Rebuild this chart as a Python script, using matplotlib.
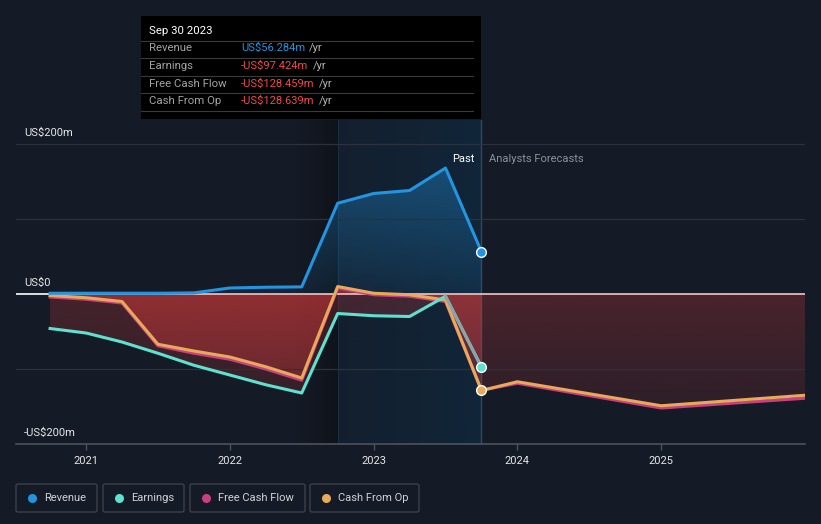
import numpy as np
import matplotlib
matplotlib.use("Agg")
import matplotlib.pyplot as plt
from matplotlib.patches import Rectangle, FancyBboxPatch
from matplotlib.lines import Line2D
from matplotlib.text import Annotation
from matplotlib.colors import to_rgb

plt.rcParams['font.family'] = ['Roboto', 'DejaVu Sans']

# --- data (US$ m, trailing twelve months) ---
past_dates = [2020.75, 2021.0, 2021.25, 2021.5, 2021.75, 2022.0, 2022.25,
              2022.5, 2022.75, 2023.0, 2023.25, 2023.5, 2023.75]
revenue = [1, 1, 1, 1, 1.5, 8, 9, 9.5, 121, 134, 138, 168, 56.284]
earnings = [-46, -52, -64, -79, -95, -108, -121, -132, -26, -29, -30, -3, -97.424]
free_cash_flow = [-4, -7, -12, -69, -79, -87, -100, -115, 8, -1, -3, -10, -128.459]
cash_from_op = [-2, -5, -10, -67, -76, -84, -97, -112, 10, 1, -1, -8, -128.639]

fc_dates = [2023.75, 2024.0, 2025.0, 2026.0]
fcf_forecast = [-128.459, -119, -152, -139]
cfo_forecast = [-128.639, -117, -149, -135]

year_ticks = [2021, 2022, 2023, 2024, 2025]
tooltip_date = "Sep 30 2023"
highlight_start = 2022.75

BG = "#151b26"
C_REV = "#2394df"
C_EARN = "#5ee2cf"
C_FCF = "#c8407f"
C_CFO = "#e8a95b"
C_RED = "#d33a3a"


def px_x(p):
    return p / 821


def px_y(p):
    return 1 - p / 524


def gradient_fill(ax, x, y, base, color, a_top, a_bot, z):
    coll = ax.fill_between(x, y, base, facecolor="none", edgecolor="none")
    path = coll.get_paths()[0]
    lo = min(min(y), base)
    hi = max(max(y), base)
    n = 256
    arr = np.zeros((n, 1, 4))
    arr[..., :3] = to_rgb(color)
    arr[:, 0, 3] = np.linspace(a_top, a_bot, n)
    im = ax.imshow(arr, extent=[x[0], x[-1], lo, hi], aspect="auto",
                   origin="upper", zorder=z, interpolation="bilinear")
    im.set_clip_path(path, ax.transData)


def fmt_money(v):
    if v < 0:
        return f"-US${abs(v):.3f}m"
    return f"US${v:.3f}m"


fig = plt.figure(figsize=(8.21, 5.24), dpi=100, facecolor=BG)
ax = fig.add_axes([px_x(16), px_y(444), 789 / 821, 324 / 524])
ax.set_facecolor(BG)

x0, x1 = 2020.513, 2026.0
y0, y1 = -200, 232

# past highlight band
n = 256
band = np.zeros((1, n, 4))
band[..., :3] = to_rgb("#0f2d46")
band[0, :, 3] = np.linspace(0.25, 0.6, n)
ax.imshow(band, extent=[highlight_start, past_dates[-1], y0, y1], aspect="auto",
          zorder=0.5, interpolation="bilinear")
shadow = np.zeros((1, n, 4))
shadow[0, :, 3] = np.linspace(0.0, 0.3, n)
ax.imshow(shadow, extent=[highlight_start - 0.3, highlight_start, y0, y1],
          aspect="auto", zorder=0.5, interpolation="bilinear")
ax.axvline(highlight_start, color="#1a2e40", lw=0.8, zorder=0.6)
ax.axvline(past_dates[-1], color="#2b4a66", lw=1, zorder=0.6)

# area fills
gradient_fill(ax, past_dates, revenue, 0, C_REV, 0.38, 0.08, 1.5)
gradient_fill(ax, past_dates, earnings, 0, C_RED, 0.25, 0.18, 1.6)
gradient_fill(ax, past_dates, cash_from_op, 0, C_RED, 0.55, 0.3, 1.7)
gradient_fill(ax, fc_dates, cfo_forecast, 0, C_RED, 0.28, 0.13, 1.7)

# grid lines
for g in [200, 100, -100]:
    ax.axhline(g, color="#2c323d", lw=0.9, zorder=1.8)
ax.plot([x0, past_dates[0]], [0, 0], color="white", lw=1.2, zorder=3)
ax.plot([past_dates[0], x1], [0, 0], color="#f3c4c4", lw=1.2, zorder=3)

# lines
lw = 2.2
ax.plot(past_dates, free_cash_flow, color=C_FCF, lw=lw, zorder=4)
ax.plot(fc_dates, fcf_forecast, color=C_FCF, lw=lw, zorder=4)
ax.plot(past_dates, cash_from_op, color=C_CFO, lw=lw, zorder=4.1)
ax.plot(fc_dates, cfo_forecast, color=C_CFO, lw=lw, zorder=4.1)
ax.plot(past_dates, earnings, color=C_EARN, lw=lw, zorder=4.2)
ax.plot(past_dates[-2:], earnings[-2:], color="#8ea3a8", lw=lw, zorder=4.25)
ax.plot(past_dates, revenue, color=C_REV, lw=lw, zorder=4.3)

for vals, col in [(revenue, C_REV), (earnings, C_EARN), (cash_from_op, C_CFO)]:
    ax.plot(past_dates[-1], vals[-1], "o", ms=7, color=col, mec="white",
            mew=1, zorder=6)

ax.set_xlim(x0, x1)
ax.set_ylim(y0, y1)

# axes styling
for s in ["top", "left", "right"]:
    ax.spines[s].set_visible(False)
ax.spines["bottom"].set_color("#4d525c")
ax.spines["bottom"].set_linewidth(1.2)
ax.set_yticks([])
ax.set_xticks(year_ticks)
ax.set_xticklabels([str(y) for y in year_ticks])
ax.tick_params(axis="x", colors="#4d525c", length=4, width=1, pad=5,
               labelcolor="#e6e6e6", labelsize=8)

ytrans = ax.get_yaxis_transform()
for val, lab in [(200, "US$200m"), (0, "US$0"), (-200, "-US$200m")]:
    ax.annotate(lab, xy=(0.01, val), xycoords=ytrans, xytext=(0, 4),
                textcoords="offset points", color="#e6e6e6", fontsize=8,
                ha="left", va="bottom")

ax.text(past_dates[-1] - 0.05, 180, "Past", color="white", fontsize=8,
        ha="right", va="center", zorder=7)
ax.text(past_dates[-1] + 0.05, 180, "Analysts Forecasts", color="#8c9199",
        fontsize=8, ha="left", va="center", zorder=7)

# tooltip
fig.patches.append(Rectangle((px_x(141), px_y(119)), 340 / 821, 103 / 524,
                             transform=fig.transFigure, facecolor="black",
                             edgecolor="none", zorder=10))
for ly in [41, 58, 76, 93, 111]:
    fig.add_artist(Line2D([px_x(141), px_x(473)], [px_y(ly), px_y(ly)],
                          color="#3a3a3a", lw=0.8, zorder=11))
fig.text(px_x(149), px_y(31), tooltip_date, color="white", fontsize=8.2,
         va="center", ha="left", zorder=12)
rows = [("Revenue", revenue[-1], C_REV, 48),
        ("Earnings", earnings[-1], "#f04a4a", 66),
        ("Free Cash Flow", free_cash_flow[-1], "#f04a4a", 84),
        ("Cash From Op", cash_from_op[-1], "#f04a4a", 101)]
for name, v, col, ry in rows:
    fig.text(px_x(149), px_y(ry), name, color="#a3a3a3", fontsize=8.2,
             va="center", ha="left", zorder=12)
    t = fig.text(px_x(241), px_y(ry), fmt_money(v), color=col, fontsize=8,
                 va="center", ha="left", zorder=12)
    fig.add_artist(Annotation("/yr", xy=(1, 0.5), xycoords=t, xytext=(3, 0),
                              textcoords="offset points", color="#b5b5b5",
                              fontsize=8, va="center", ha="left", zorder=12))

# legend boxes
legend_items = [("Revenue", C_REV, 16, 97), ("Earnings", C_EARN, 103, 184),
                ("Free Cash Flow", C_FCF, 190, 305), ("Cash From Op", C_CFO, 310, 419)]
for lab, col, bx0, bx1 in legend_items:
    fig.patches.append(FancyBboxPatch((px_x(bx0), px_y(512)), (bx1 - bx0) / 821,
                                      28 / 524, boxstyle="round,pad=0,rounding_size=0.003",
                                      transform=fig.transFigure, facecolor="none",
                                      edgecolor="#3b404b", lw=1))
    fig.add_artist(Line2D([px_x(bx0 + 16)], [px_y(498)], marker="o", ms=6.5,
                          color=col, mec="none", transform=fig.transFigure))
    fig.text(px_x(bx0 + 28), px_y(498), lab, color="#cfd2d6", fontsize=8,
             va="center", ha="left")

fig.savefig("out.png", dpi=100, facecolor=BG)
